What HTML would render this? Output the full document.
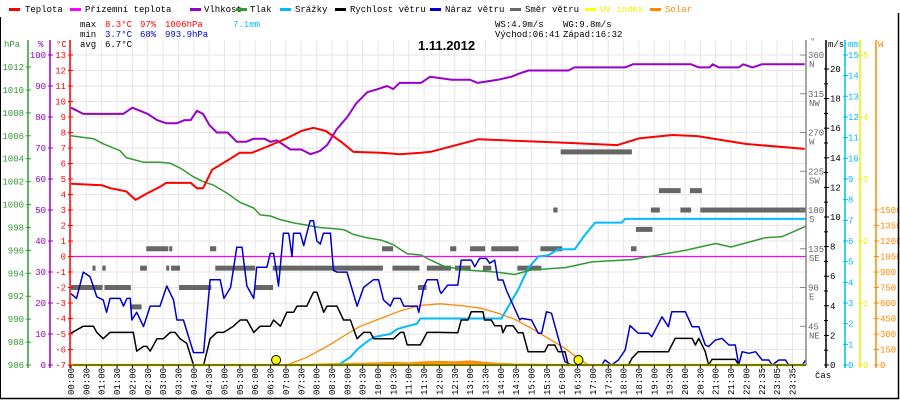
<!DOCTYPE html>
<html><head><meta charset="utf-8">
<style>
html,body{margin:0;padding:0;background:#fff;}
svg{display:block;}
text{font-family:"Liberation Mono",monospace;font-size:9px;}
</style></head>
<body>
<svg id="chart" width="900" height="400" viewBox="0 0 900 400" xmlns="http://www.w3.org/2000/svg">
<rect x="0" y="0" width="900" height="400" fill="#fff"/>
<g id="grid"></g>
<g id="series"></g>
<g id="axes"></g>
<g>
<line x1="0.5" y1="17" x2="0.5" y2="399" stroke="#000" stroke-width="1"/>
<line x1="898.5" y1="13" x2="898.5" y2="399" stroke="#000" stroke-width="1.5"/>
<line x1="0" y1="398.5" x2="899" y2="398.5" stroke="#000" stroke-width="1.5"/>
</g>
<g>
<g><rect x="9" y="8" width="11" height="3" fill="#f00"/><text x="25" y="12">Teplota</text></g>
<g><rect x="70" y="8" width="11" height="3" fill="#f0f"/><text x="85" y="12">Přízemní teplota</text></g>
<g><rect x="190" y="8" width="11" height="3" fill="#90c"/><text x="204" y="12">Vlhkost</text></g>
<g><rect x="236" y="8" width="11" height="3" fill="#393"/><text x="250" y="12">Tlak</text></g>
<g><rect x="280" y="8" width="11" height="3" fill="#0bf"/><text x="295" y="12">Srážky</text></g>
<g><rect x="335" y="8" width="11" height="3" fill="#000"/><text x="350" y="12">Rychlost větru</text></g>
<g><rect x="430" y="8" width="11" height="3" fill="#00c"/><text x="445" y="12">Náraz větru</text></g>
<g><rect x="510" y="8" width="11" height="3" fill="#666"/><text x="525" y="12">Směr větru</text></g>
<g><rect x="585" y="8" width="11" height="3" fill="#ff0"/><text x="600" y="12" fill="#ee0">UV index</text></g>
<g><rect x="650" y="8" width="11" height="3" fill="#f80"/><text x="665" y="12" fill="#f80">Solar</text></g>
</g>
<g>
<text x="80" y="27">max</text><text x="105" y="27" fill="#f00">8.3°C</text><text x="140" y="27" fill="#f00">97%</text><text x="165" y="27" fill="#f00">1006hPa</text><text x="233" y="27" fill="#0bf">7.1mm</text>
<text x="80" y="37">min</text><text x="105" y="37" fill="#00c">3.7°C</text><text x="140" y="37" fill="#00c">68%</text><text x="165" y="37" fill="#00c">993.9hPa</text>
<text x="80" y="47">avg</text><text x="105" y="47">6.7°C</text>
<text x="495" y="27">WS:4.9m/s</text><text x="563" y="27">WG:9.8m/s</text>
<text x="495" y="37">Východ:06:41</text><text x="563" y="37">Západ:16:32</text>
</g>
<text x="418" y="50" style="font-family:'Liberation Sans',sans-serif;font-size:13px;font-weight:bold">1.11.2012</text>
<g>
<text x="4" y="47" fill="#393">hPa</text><text x="38" y="47" fill="#90c">%</text><text x="56" y="47" fill="#f00">°C</text>
<text x="810" y="44" fill="#666">°</text><text x="828" y="47">m/s</text><text x="848" y="47" fill="#0bf">mm</text><text x="878" y="47" fill="#f80">W</text>
<text x="815" y="378">čas</text>
</g>
</svg>
<script>
// time (hours) + values per series
const tempT = [0,1,1.3,1.8,2.1,2.5,2.9,3.1,3.9,4.1,4.3,4.6,5.1,5.5,5.9,6.4,7,7.5,7.9,8.3,8.8,9.2,10.1,10.7,11.4,11.73,13.26,16.1,17.8,18.5,19.6,20.4,22,23.9];
const tempV = [4.7,4.6,4.4,4.2,3.65,4.1,4.5,4.75,4.75,4.4,4.4,5.6,6.2,6.7,6.7,7.1,7.6,8.1,8.3,8.1,7.4,6.75,6.7,6.6,6.7,6.76,7.56,7.34,7.19,7.62,7.84,7.77,7.26,6.94];
const apparentT = [0,23.94];
const apparentV = [0,0];
const humT = [0,0.4,1.7,2.0,2.5,2.8,3.1,3.45,3.7,3.9,4.1,4.3,4.5,4.75,5.1,5.4,5.7,5.95,6.3,6.5,6.7,7.15,7.5,7.8,8.1,8.35,8.65,9.0,9.3,9.65,10.0,10.3,10.5,10.7,11.4,11.7,12.4,13.0,13.25,13.9,14.35,14.6,14.9,16.2,16.4,18.05,18.3,20.2,20.45,20.8,20.9,21.1,21.75,21.9,22.2,22.5,23.9];
const humV = [83,81,81,83,81,79,78,78,79,79,82,81,77.5,75,75,72,72,73,73,72,72.5,69.5,69.5,68,69,71,76,80,84.5,88,89,90,89,91,91,93,92,92,91,92,93,94,95,95,96,96,97,97,96,96,97,96,96,97,96,97,97];
const presT = [0,0.73,1.05,1.6,1.8,2.36,2.9,3.23,3.55,4.0,4.3,4.64,5.08,5.5,5.95,6.16,6.5,6.8,7.25,7.7,8.1,8.55,8.9,9.2,9.64,10.1,10.5,10.95,11.4,11.6,12.0,12.17,12.82,13.9,14.45,15.0,16.1,16.96,18.27,18.92,20.0,21.0,21.5,22.6,23.17,23.93];
const presV = [1006.0,1005.75,1005.3,1004.7,1004.1,1003.7,1003.7,1003.6,1003.2,1002.4,1002.0,1001.7,1001.0,1000.2,999.7,999.1,999.0,998.7,998.4,998.2,998.0,997.9,997.8,997.4,997.1,996.9,996.5,995.7,995.6,995.3,994.8,994.6,994.3,994.1,993.9,994.3,994.5,995.0,995.2,995.5,996.0,996.6,996.3,997.1,997.2,998.1];
const gustT = [0,0.18,0.4,0.62,0.84,1.05,1.16,1.27,1.6,1.71,1.82,1.93,1.98,2.14,2.36,2.58,2.9,3.12,3.34,3.45,3.66,3.99,4.32,4.53,4.86,4.98,5.2,5.4,5.57,5.73,5.95,6.05,6.38,6.49,6.6,6.71,6.76,6.92,7.09,7.2,7.25,7.47,7.58,7.68,7.79,7.9,8.01,8.12,8.22,8.45,8.55,8.66,8.99,9.32,9.53,9.85,10.02,10.18,10.4,10.51,10.73,10.84,11.27,11.33,11.49,11.6,11.93,12.01,12.06,12.27,12.6,12.71,13.04,13.15,13.31,13.53,13.64,13.8,13.91,14.07,14.18,14.62,14.67,15.0,15.22,15.33,15.49,15.65,15.98,16.09,16.3,17.29,17.39,17.61,17.83,18.05,18.21,18.48,18.81,18.92,19.25,19.46,19.57,20.01,20.23,20.45,20.66,20.77,20.99,21.21,21.43,21.64,21.75,21.86,22.08,22.3,22.51,22.73,22.84,23.06,23.27,23.38,23.82,23.93];
const gustV = [4.82,4.5,6.28,5.97,4.61,4.4,3.56,4.5,4.5,3.98,4.5,4.5,3.04,3.56,2.6,3.98,3.98,5.34,4.4,3.04,3.04,0.84,0.84,5.76,5.76,4.5,5.24,7.96,7.96,5.34,4.5,6.6,6.6,7.54,7.54,6.07,5.34,8.9,8.9,7.33,8.9,8.9,8.06,8.9,9.74,9.74,8.38,8.17,8.9,8.9,6.39,6.28,6.28,3.98,5.24,5.76,5.76,4.4,3.98,4.5,4.5,3.98,3.98,3.56,5.24,5.76,5.76,5.03,4.84,5.4,5.4,7.09,7.09,6.64,7.2,7.2,6.87,7.09,5.74,5.74,5.07,3.04,3.15,3.04,2.14,2.14,3.6,3.49,1.01,0.22,0,0,0.34,0,0.34,1.01,2.66,2.14,2.14,1.91,3.26,2.59,3.6,3.6,2.59,2.59,1.35,1.24,1.69,1.8,1.35,1.35,0,0.9,0.79,0.9,0.34,0.34,0,0.34,0.34,0,0,0.34];
const windT = [0,0.4,0.73,0.84,1.05,1.27,2.03,2.14,2.36,2.47,2.58,2.8,3.01,3.23,3.39,3.55,3.77,3.99,4.32,4.53,4.75,4.97,5.29,5.51,5.73,5.95,6.16,6.49,6.6,6.82,7.03,7.25,7.36,7.68,7.9,8.01,8.23,8.34,8.66,8.88,9.1,9.32,9.53,9.75,9.86,10.51,10.73,10.84,10.95,11.38,11.6,12.0,12.6,12.71,12.93,13.04,13.42,13.47,13.69,13.8,14.02,14.07,14.18,14.4,14.56,14.72,14.89,15.43,15.54,15.76,15.87,16.09,16.2,18.16,18.27,18.48,19.46,19.68,20.23,20.34,20.45,20.66,20.77,20.88,21.64,21.75,23.94];
const windV = [2.15,2.62,2.62,2.2,1.78,2.2,2.2,0.94,1.26,1.26,0.94,1.78,1.78,2.2,2.2,1.78,1.47,0,0,1.78,2.2,2.2,2.62,3.04,3.04,2.2,2.62,2.62,3.04,2.62,3.56,3.56,3.98,3.98,4.92,4.92,3.56,3.98,3.98,3.04,3.04,1.78,2.2,2.2,1.78,1.78,2.2,2.2,1.36,1.36,2.2,2.2,2.18,3.04,3.04,3.6,3.6,3.04,3.04,2.65,2.65,2.18,2.65,2.65,2.18,2.18,0.9,0.9,1.35,1.35,0.9,0.9,0,0,0.45,0.9,0.9,1.8,1.8,1.35,1.8,0.9,0,0.38,0.38,0,0];
const dirStart = [2.45,3.2,4.53,10.13,0.7,1.02,2.25,3.1,3.26,4.7,6.57,10.47,11.59,0,1.09,3.52,5.98,11.3,1.92,11.73,12.51,13.42,14.54,12.35,13.0,13.69,15.29,18.24,18.4,15.71,18.89,19.85,20.5,19.15,20.16,15.95];
const dirEnd   = [3.17,3.3,4.73,10.49,0.8,1.13,2.47,3.2,3.55,6.0,10.16,11.35,11.73,1.03,1.95,4.57,6.58,11.58,2.3,12.38,13.02,13.69,15.32,12.55,13.49,14.58,16.0,18.42,18.94,15.85,19.18,20.2,23.94,19.86,20.55,18.27];
const dirValue = [135,135,135,135,112.5,112.5,112.5,112.5,112.5,112.5,112.5,112.5,112.5,90,90,90,90,90,67.5,112.5,112.5,112.5,112.5,135,135,135,135,135,157.5,180,180,180,180,202.5,202.5,247.5];
const rainT = [8.7,9.1,9.32,9.64,9.86,10.4,10.62,10.95,11.27,11.38,14.02,14.24,14.56,14.89,15.22,15.54,15.87,16.41,16.74,17.07,17.94,18.05,23.94];
const rainV = [0,0.375,0.75,1.125,1.35,1.5,1.73,1.875,2.0,2.25,2.25,2.82,3.63,4.68,5.25,5.3,5.6,5.6,6.29,6.89,6.89,7.07,7.07];
const solarMaxT = [7.03,7.68,8.34,8.99,9.42,10.08,10.73,11.38,12.03,12.82,13.36,13.91,14.45,15.0,15.54,16.09,16.52,16.85];
const solarMaxV = [0,75,180,300,375,450,525,577,592,571,549,501,443,355,258,162,65,0];
const solarT = [7.6,8.0,8.5,9.0,9.5,10.0,10.5,11.0,11.5,12.0,12.5,13.0,13.5,14.0,14.5,15.0,15.6,15.7];
const solarV = [5,15,18,20,22,25,30,25,35,40,35,45,30,20,15,15,10,0];
const uvT = [0,23.94];
const uvV = [0,0];
const sunT = [6.68,16.53];
const timeLabels = ["00:00","00:30","01:00","01:30","02:00","02:30","03:00","03:30","04:00","04:30","05:00","05:30","06:00","06:30","07:00","07:30","08:00","08:30","09:00","09:30","10:00","10:30","11:00","11:30","12:00","12:30","13:00","13:30","14:00","14:30","15:00","15:30","16:00","16:30","17:00","17:30","18:00","18:30","19:00","19:30","20:00","20:30","21:00","21:30","22:00","22:35","23:05","23:35"];
const hpaTicks = [986,988,990,992,994,996,998,1000,1002,1004,1006,1008,1010,1012];
const humTicks = [0,10,20,30,40,50,60,70,80,90,100];
const tempTicks = [-7,-6,-5,-4,-3,-2,-1,0,1,2,3,4,5,6,7,8,9,10,11,12,13];
const dirTicks = [45,90,135,180,225,270,315,360];
const dirNames = ["NE","E","SE","S","SW","W","NW","N"];
const msTicks = [0,2,4,6,8,10,12,14,16,18,20];
const mmTicks = [0,1,2,3,4,5,6,7,8,9,10,11,12,13,14,15];
const uvTicks = [0,1,2,3,4,5];
const wTicks = [0,150,300,450,600,750,900,1050,1200,1350,1500];

const NS="http://www.w3.org/2000/svg";
const X0=71, X1=806, YB=365, YT=55;
const X = h => X0 + h*30.7;
const yT = v => YB - (v+7)*15.5;
const yH = v => YB - v*3.1;
const yP = v => YB - (v-986)*11.46;
const yW = v => YB - v*14.8;
const yD = v => YB - v*0.861;
const yR = v => YB - v*20.67;
const yS = v => YB - v*0.1033;
const yU = v => YB - v*62;

function mk(tag, attrs, parent){const e=document.createElementNS(NS,tag);for(const k in attrs)e.setAttribute(k,attrs[k]);parent.appendChild(e);return e;}
const grid=document.getElementById('grid'), ser=document.getElementById('series'), axes=document.getElementById('axes');

for(const t of tempTicks){ if(t===-7) continue; const l=mk('line',{x1:X0,x2:X1,y1:yT(t),y2:yT(t),stroke:'#e6e6e6','stroke-width':1},grid);

}
timeLabels.forEach((s,i)=>{const x=X0+i*15.35; const l=mk('line',{x1:x,x2:x,y1:YT-15,y2:YB,stroke:'#e6e6e6','stroke-width':1},grid);


const tk=mk('line',{x1:x,x2:x,y1:YB,y2:YB+3,stroke:'#000'},axes);


const t=mk('text',{x:0,y:0,transform:`translate(${x+3},${395}) rotate(-90)`},axes); t.textContent=s;

});

function line(ts,vs,fy,color,w,name){const d=ts.map((t,i)=>(i?'L':'M')+X(t).toFixed(1)+' '+fy(vs[i]).toFixed(1)).join(' ');
const p=mk('path',{d:d,fill:'none',stroke:color,'stroke-width':w,'stroke-linejoin':'round'},ser);

return p;}

{const d='M'+X(solarT[0])+' '+YB+' '+solarT.map((t,i)=>'L'+X(t).toFixed(1)+' '+yS(solarV[i]).toFixed(1)).join(' ')+' L'+X(solarT[solarT.length-1])+' '+YB+' Z';
const p=mk('path',{d:d,fill:'#f80'},ser);

}
line(solarMaxT,solarMaxV,yS,'#f80',1.3,'solar-max-line');
dirStart.forEach((s,i)=>{const r=mk('rect',{x:X(s),y:yD(dirValue[i])-2.5,width:Math.max(2,X(dirEnd[i])-X(s)),height:5,fill:'#666'},ser);

});
line(apparentT,apparentV,yT,'#f0f',1.2,'apparent-temperature-line');
line(rainT,rainV,yR,'#0bf',2,'rain-line');
line(presT,presV,yP,'#393',1.5,'pressure-line');
line(humT,humV,yH,'#90c',2,'humidity-line');
line(tempT,tempV,yT,'#f00',2,'temperature-line');
line(gustT,gustV,yW,'#00c',1.5,'wind-gust-line');
line(windT,windV,yW,'#000',1.5,'wind-speed-line');
line(uvT,uvV,yU,'#ee0',2.5,'uv-index-line');
sunT.forEach(t=>{const c=mk('circle',{cx:X(t),cy:YB-5,r:4.5,fill:'#ff0',stroke:'#000','stroke-width':1},ser);

});
{const b=mk('line',{x1:X0,x2:X1,y1:YB,y2:YB,stroke:'#000','stroke-width':1},axes);

}

function axis(x,y1,y2,color,name){const l=mk('line',{x1:x,x2:x,y1:y1,y2:y2,stroke:color,'stroke-width':1.5},axes);

}
function ticks(vals,fy,x,color,lx,anchor,fmt,name){vals.forEach((v,i)=>{const y=fy(v);
const tk=mk('line',{x1:x-2,x2:x+3,y1:y,y2:y,stroke:color},axes);


const t=mk('text',{x:lx,y:y+3,fill:color,'text-anchor':anchor},axes); t.textContent=fmt(v,i);

});}
axis(28,40,YB+3,'#393','pressure-axis'); ticks(hpaTicks,yP,28,'#393',24,'end',v=>v,'pressure');
axis(50,40,YB+3,'#90c','humidity-axis'); ticks(humTicks,yH,50,'#90c',46,'end',v=>v,'humidity');
axis(70,40,YB+3,'#f00','temperature-axis'); ticks(tempTicks,yT,70,'#f00',66,'end',v=>v,'temperature');
axis(806,40,YB,'#888','direction-axis');
dirTicks.forEach((v,i)=>{const y=yD(v);const tk=mk('line',{x1:800,x2:806,y1:y,y2:y,stroke:'#888'},axes);


const t=mk('text',{x:808,y:y+3,fill:'#666'},axes); t.textContent=v;


const t2=mk('text',{x:809,y:y+12,fill:'#666'},axes); t2.textContent=dirNames[i];

});
axis(826,40,YB+3,'#000','wind-speed-axis');
for(let v=1;v<20;v+=2){const tk=mk('line',{x1:824,x2:828,y1:yW(v),y2:yW(v),stroke:'#000'},axes);

}
ticks(msTicks,yW,826,'#000',830,'start',v=>v,'wind-speed');
axis(845,40,YB+3,'#0bf','rain-axis'); ticks(mmTicks,yR,845,'#0bf',848,'start',v=>v,'rain');
axis(860,40,YB+3,'#ee0','uv-axis'); ticks(uvTicks,yU,860,'#ee0',863,'start',v=>v,'uv');
axis(876,40,YB+3,'#f80','solar-axis'); ticks(wTicks,yS,876,'#f80',880,'start',v=>v,'solar');
</script>
</body></html>
